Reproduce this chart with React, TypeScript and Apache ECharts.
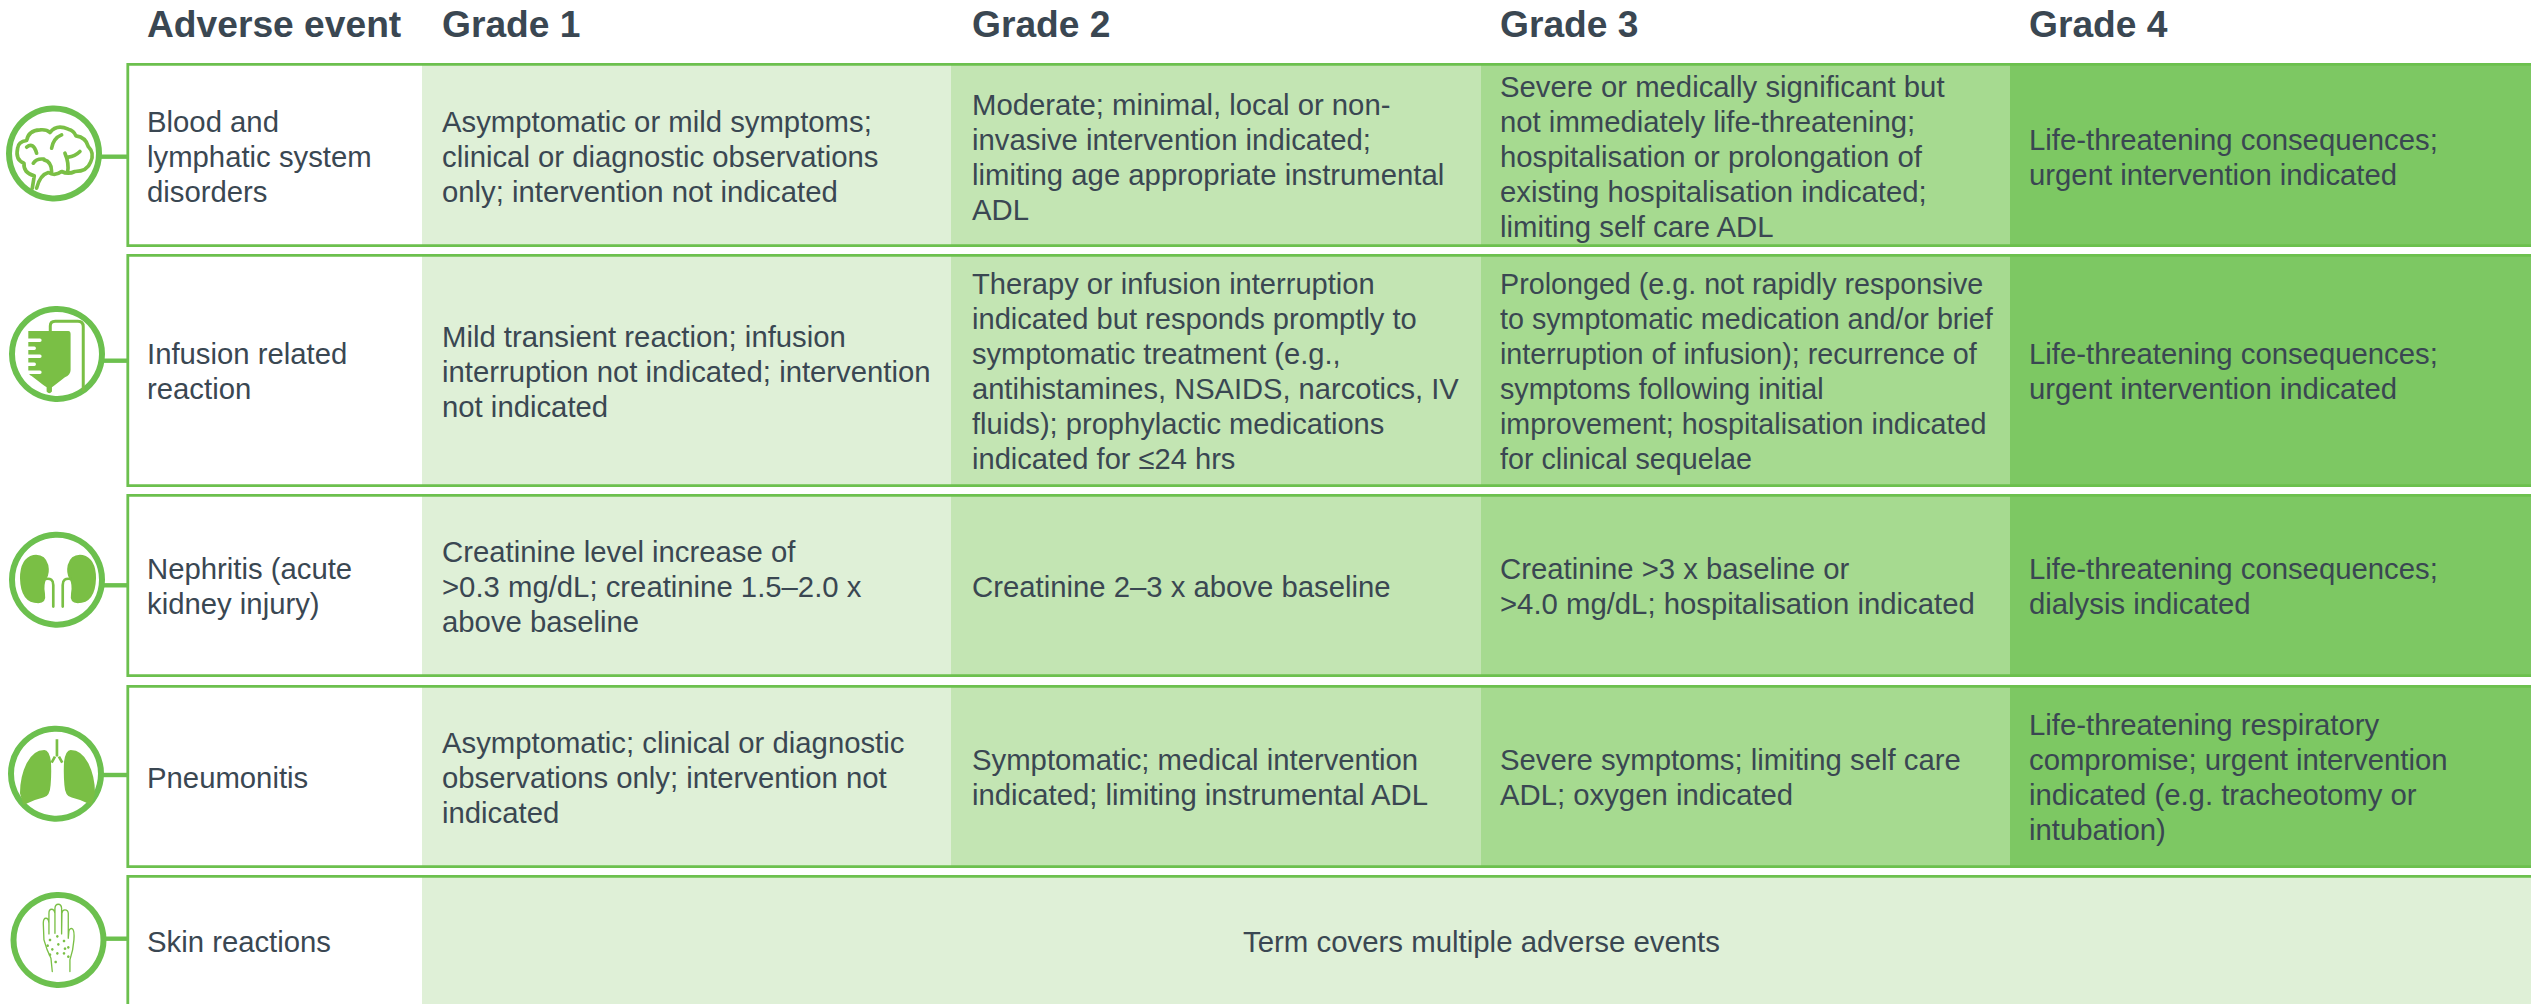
import React, { useEffect, useRef } from "react";
import * as echarts from "echarts";

const headers = ["Adverse event", "Grade 1", "Grade 2", "Grade 3", "Grade 4"];
const events = [
  "Blood and\nlymphatic system\ndisorders",
  "Infusion related\nreaction",
  "Nephritis (acute\nkidney injury)",
  "Pneumonitis",
  "Skin reactions",
];
const grade1 = [
  "Asymptomatic or mild symptoms;\nclinical or diagnostic observations\nonly; intervention not indicated",
  "Mild transient reaction; infusion\ninterruption not indicated; intervention\nnot indicated",
  "Creatinine level increase of\n>0.3 mg/dL; creatinine 1.5–2.0 x\nabove baseline",
  "Asymptomatic; clinical or diagnostic\nobservations only; intervention not\nindicated",
];
const grade2 = [
  "Moderate; minimal, local or non-\ninvasive intervention indicated;\nlimiting age appropriate instrumental\nADL",
  "Therapy or infusion interruption\nindicated but responds promptly to\nsymptomatic treatment (e.g.,\nantihistamines, NSAIDS, narcotics, IV\nfluids); prophylactic medications\nindicated for ≤24 hrs",
  "Creatinine 2–3 x above baseline",
  "Symptomatic; medical intervention\nindicated; limiting instrumental ADL",
];
const grade3 = [
  "Severe or medically significant but\nnot immediately life-threatening;\nhospitalisation or prolongation of\nexisting hospitalisation indicated;\nlimiting self care ADL",
  "Prolonged (e.g. not rapidly responsive\nto symptomatic medication and/or brief\ninterruption of infusion); recurrence of\nsymptoms following initial\nimprovement; hospitalisation indicated\nfor clinical sequelae",
  "Creatinine >3 x baseline or\n>4.0 mg/dL; hospitalisation indicated",
  "Severe symptoms; limiting self care\nADL; oxygen indicated",
];
const grade4 = [
  "Life-threatening consequences;\nurgent intervention indicated",
  "Life-threatening consequences;\nurgent intervention indicated",
  "Life-threatening consequences;\ndialysis indicated",
  "Life-threatening respiratory\ncompromise; urgent intervention\nindicated (e.g. tracheotomy or\nintubation)",
];
const skinNote = "Term covers multiple adverse events";

// layout
const W = 2531;
const H = 1004;
const rowTop = [63, 254, 494, 685, 875];
const rowBottom = [247, 487, 677, 868, 1020];
const textMid = [156.5, 371, 586, 777, 941];
const colLeft = [422, 951, 1481, 2010, W];
const textX = [147, 442, 972, 1500, 2029];
const fills = ["#dff0d7", "#c3e5b3", "#a6da90", "#7dc863"];
const BORDER = "#6cc04e";
const ICON = "#7abf45";
const TEXT = "#3a4752";
const FONT = '"Liberation Sans", Arial, sans-serif';
const bodySize = (r: number, c: number) => (r === 1 && c === 2 ? 28.7 : r === 1 && c === 1 ? 29.1 : 29.3);
const iconCentres = [
  [54, 153.5, 156.7],
  [57, 354, 360.7],
  [57, 579.7, 585.3],
  [56, 773.7, 775],
  [58.5, 940, 938.7],
];

const BRAIN =
  "M97 565 L103 528 Q70 520 72 490 Q45 480 53 445 Q55 425 80 422 Q85 392 120 390 Q140 388 150 398 Q170 372 205 388 Q222 392 228 408 Q258 412 265 440 Q285 460 272 487 Q262 515 225 515 Q205 525 185 515 Q165 530 145 518 Q120 525 110 565 " +
  "M80 442 Q100 425 110 460 M132 480 Q155 485 155 515 M185 405 Q160 415 155 445 M195 460 Q208 490 203 517 M205 472 Q225 470 240 455 M100 490 Q110 475 132 478";
const BAG =
  "M85 123 L205 123 Q212 123 212 132 L212 240 Q212 255 195 262 L165 285 L156 292 L156 305 Q148 315 140 305 L140 292 L130 285 L95 258 Q85 255 85 240 Z";
const BAG_TICKS = "M85 151 L120 151 M85 175 L103 175 M85 199 L120 199 M85 223 L103 223 M85 247 L120 247";
const TUBE = "M151 123 L151 108 Q151 94 166 94 L234 94 Q250 94 250 110 L250 300";
const KIDNEY =
  "M100 135 Q60 145 60 205 Q62 280 115 280 Q140 280 135 250 Q130 225 140 205 Q150 190 145 165 Q135 130 100 135 Z";
const URETER = "M137 207 Q160 203 160 225 L160 290";
const LUNG =
  "M133 150 Q100 150 80 190 Q60 230 60 280 L70 315 Q100 300 130 293 Q150 290 152 255 Q155 220 153 185 Q148 150 133 150 Z";
const TRACHEA = "M171 118 L171 170 M165 170 L155 188 M177 170 L187 188";
const HAND =
  "M157 335 L153 295 Q140 270 132 240 L130 190 Q130 175 138 175 Q146 175 147 190 L147 222 L147 160 Q147 148 155 148 Q163 148 165 160 L165 220 L165 145 Q166 133 175 133 Q184 133 185 145 L185 222 L186 160 Q187 150 195 150 Q204 150 205 160 L205 235 L207 212 Q212 203 218 207 Q224 212 222 240 Q220 270 210 300 L210 335";
const HAND_DOTS = [
  [150, 240], [172, 229], [192, 243], [143, 257], [157, 268], [175, 253],
  [195, 266], [172, 280], [192, 280], [205, 262], [150, 284], [167, 306], [205, 290],
];

[["brain", BRAIN], ["bag", BAG], ["bagTicks", BAG_TICKS], ["tube", TUBE], ["kidney", KIDNEY],
 ["ureter", URETER], ["lung", LUNG], ["trachea", TRACHEA], ["hand", HAND]].forEach(([n, d]) =>
  echarts.graphic.registerShape(n, echarts.graphic.extendPath(d, {}))
);

function shape(type: string, ox: number, oy: number, style: any, mirror = 0) {
  return {
    type,
    x: mirror ? ox + mirror / 3 : ox,
    y: oy,
    scaleX: mirror ? -1 / 3 : 1 / 3,
    scaleY: 1 / 3,
    style,
  };
}
const filled = { fill: ICON };
const stroked = (w: number, c = ICON) => ({ fill: "none", stroke: c, lineWidth: w, lineCap: "round" });

function icons(): any[] {
  const out: any[] = [];
  out.push(shape("brain", 0, 0, { ...stroked(11), lineJoin: "round" }));
  out.push(shape("tube", 0, 290, stroked(9)));
  out.push(shape("bag", 0, 290, filled));
  out.push(shape("bagTicks", 0, 290, stroked(10, "#ffffff")));
  [0, 348].forEach((m) => {
    out.push(shape("kidney", 0, 510, filled, m));
    out.push(shape("ureter", 0, 510, stroked(8), m));
  });
  [0, 345].forEach((m) => out.push(shape("lung", 0, 700, filled, m)));
  out.push(shape("trachea", 0, 700, { ...stroked(8), lineCap: "butt" }));
  out.push(shape("hand", 0, 860, { ...stroked(4), lineJoin: "round" }));
  HAND_DOTS.forEach(([x, y]) =>
    out.push({ type: "circle", shape: { cx: x / 3, cy: 860 + y / 3, r: 1.3 }, style: { fill: ICON } })
  );
  return out;
}

function buildGraphic(): any[] {
  const els: any[] = [];
  const grades = [grade1, grade2, grade3, grade4];
  headers.forEach((h, i) =>
    els.push({
      type: "text",
      style: { text: h, x: textX[i], y: 24, fill: TEXT, font: `bold 37.2px ${FONT}`, align: "left", verticalAlign: "middle" },
    })
  );
  events.forEach((ev, r) => {
    const top = rowTop[r];
    const bottom = rowBottom[r];
    if (r < 4) {
      grades.forEach((g, c) => {
        els.push({
          type: "rect",
          shape: { x: colLeft[c], y: top, width: colLeft[c + 1] - colLeft[c], height: bottom - top },
          style: { fill: fills[c] },
        });
      });
    } else {
      els.push({
        type: "rect",
        shape: { x: colLeft[0], y: top, width: W - colLeft[0], height: bottom - top },
        style: { fill: fills[0] },
      });
    }
    els.push({
      type: "rect",
      shape: { x: 127.8, y: top + 1.3, width: W + 20, height: bottom - top - 2.6 },
      style: { fill: "none", stroke: BORDER, lineWidth: 2.8 },
    });
    const cc = iconCentres[r];
    els.push({ type: "line", shape: { x1: cc[0] + 46, y1: cc[2], x2: 127, y2: cc[2] }, style: { stroke: BORDER, lineWidth: 4.4 } });
    els.push({ type: "circle", shape: { cx: cc[0], cy: cc[1], r: 45 }, style: { fill: "#ffffff", stroke: BORDER, lineWidth: 6 } });
    const txt = (text: string, x: number, size: number, align = "left") => ({
      type: "text",
      style: { text, x, y: textMid[r], fill: TEXT, font: `${size}px ${FONT}`, lineHeight: 35, align, verticalAlign: "middle" },
    });
    els.push(txt(ev, textX[0], 29.3));
    if (r < 4) grades.forEach((g, c) => els.push(txt(g[r], textX[c + 1], bodySize(r, c))));
    else els.push(txt(skinNote, 1481.5, 29.4, "center"));
  });
  return els.concat(icons());
}

export default function App() {
  const ref = useRef<HTMLDivElement>(null);
  useEffect(() => {
    document.body.style.margin = "0";
    document.body.style.overflow = "hidden";
    const chart = echarts.init(ref.current!, undefined, { renderer: "svg" });
    chart.setOption({ animation: false, backgroundColor: "#ffffff", graphic: { elements: buildGraphic() } });
    return () => chart.dispose();
  }, []);
  return <div ref={ref} style={{ width: W, height: H }} />;
}
